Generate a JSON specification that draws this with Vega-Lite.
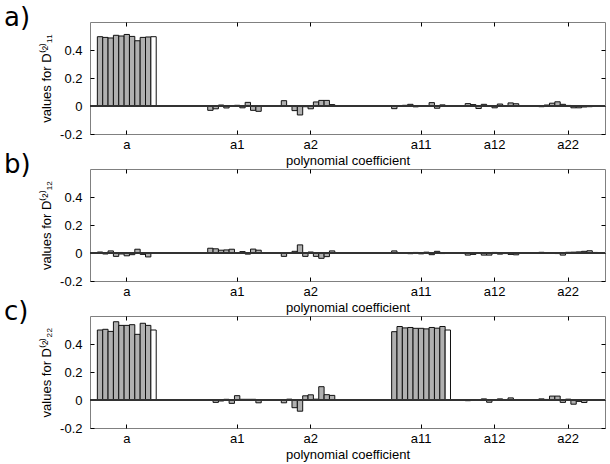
{
  "$schema": "https://vega.github.io/schema/vega-lite/v6.json",
  "padding": {"left": 3, "top": 4, "right": 5, "bottom": 3},
  "datasets": {
    "bars": [
      {"panel":"a","coef":"a","bar":1,"value":0.495},{"panel":"a","coef":"a","bar":2,"value":0.49},{"panel":"a","coef":"a","bar":3,"value":0.486},{"panel":"a","coef":"a","bar":4,"value":0.505},{"panel":"a","coef":"a","bar":5,"value":0.5},{"panel":"a","coef":"a","bar":6,"value":0.511},{"panel":"a","coef":"a","bar":7,"value":0.497},{"panel":"a","coef":"a","bar":8,"value":0.466},{"panel":"a","coef":"a","bar":9,"value":0.49},{"panel":"a","coef":"a","bar":10,"value":0.493},{"panel":"a","coef":"a","bar":11,"value":0.495},
      {"panel":"a","coef":"a1","bar":1,"value":-0.031},{"panel":"a","coef":"a1","bar":2,"value":-0.02},{"panel":"a","coef":"a1","bar":3,"value":0.007},{"panel":"a","coef":"a1","bar":4,"value":-0.014},{"panel":"a","coef":"a1","bar":5,"value":0.002},{"panel":"a","coef":"a1","bar":6,"value":0.005},{"panel":"a","coef":"a1","bar":7,"value":-0.013},{"panel":"a","coef":"a1","bar":8,"value":0.026},{"panel":"a","coef":"a1","bar":9,"value":-0.031},{"panel":"a","coef":"a1","bar":10,"value":-0.038},{"panel":"a","coef":"a1","bar":11,"value":0},
      {"panel":"a","coef":"a2","bar":1,"value":0.038},{"panel":"a","coef":"a2","bar":2,"value":0},{"panel":"a","coef":"a2","bar":3,"value":-0.033},{"panel":"a","coef":"a2","bar":4,"value":-0.064},{"panel":"a","coef":"a2","bar":5,"value":-0.005},{"panel":"a","coef":"a2","bar":6,"value":-0.02},{"panel":"a","coef":"a2","bar":7,"value":0.029},{"panel":"a","coef":"a2","bar":8,"value":0.04},{"panel":"a","coef":"a2","bar":9,"value":0.04},{"panel":"a","coef":"a2","bar":10,"value":0.01},{"panel":"a","coef":"a2","bar":11,"value":0},
      {"panel":"a","coef":"a11","bar":1,"value":-0.019},{"panel":"a","coef":"a11","bar":2,"value":-0.003},{"panel":"a","coef":"a11","bar":3,"value":0.005},{"panel":"a","coef":"a11","bar":4,"value":0.012},{"panel":"a","coef":"a11","bar":5,"value":-0.006},{"panel":"a","coef":"a11","bar":6,"value":0.003},{"panel":"a","coef":"a11","bar":7,"value":0},{"panel":"a","coef":"a11","bar":8,"value":0.024},{"panel":"a","coef":"a11","bar":9,"value":-0.016},{"panel":"a","coef":"a11","bar":10,"value":0.008},{"panel":"a","coef":"a11","bar":11,"value":0},
      {"panel":"a","coef":"a12","bar":1,"value":0.017},{"panel":"a","coef":"a12","bar":2,"value":0.01},{"panel":"a","coef":"a12","bar":3,"value":-0.018},{"panel":"a","coef":"a12","bar":4,"value":0.012},{"panel":"a","coef":"a12","bar":5,"value":0},{"panel":"a","coef":"a12","bar":6,"value":-0.013},{"panel":"a","coef":"a12","bar":7,"value":0.014},{"panel":"a","coef":"a12","bar":8,"value":-0.003},{"panel":"a","coef":"a12","bar":9,"value":0.022},{"panel":"a","coef":"a12","bar":10,"value":0.016},{"panel":"a","coef":"a12","bar":11,"value":0},
      {"panel":"a","coef":"a22","bar":1,"value":-0.005},{"panel":"a","coef":"a22","bar":2,"value":0.007},{"panel":"a","coef":"a22","bar":3,"value":0.02},{"panel":"a","coef":"a22","bar":4,"value":0.03},{"panel":"a","coef":"a22","bar":5,"value":0.012},{"panel":"a","coef":"a22","bar":6,"value":0.004},{"panel":"a","coef":"a22","bar":7,"value":-0.013},{"panel":"a","coef":"a22","bar":8,"value":-0.013},{"panel":"a","coef":"a22","bar":9,"value":-0.007},{"panel":"a","coef":"a22","bar":10,"value":-0.005},{"panel":"a","coef":"a22","bar":11,"value":0},

      {"panel":"b","coef":"a","bar":1,"value":0.007},{"panel":"b","coef":"a","bar":2,"value":-0.007},{"panel":"b","coef":"a","bar":3,"value":0.015},{"panel":"b","coef":"a","bar":4,"value":-0.024},{"panel":"b","coef":"a","bar":5,"value":-0.007},{"panel":"b","coef":"a","bar":6,"value":-0.02},{"panel":"b","coef":"a","bar":7,"value":-0.012},{"panel":"b","coef":"a","bar":8,"value":0.027},{"panel":"b","coef":"a","bar":9,"value":-0.01},{"panel":"b","coef":"a","bar":10,"value":-0.028},{"panel":"b","coef":"a","bar":11,"value":0},
      {"panel":"b","coef":"a1","bar":1,"value":0.034},{"panel":"b","coef":"a1","bar":2,"value":0.03},{"panel":"b","coef":"a1","bar":3,"value":0.02},{"panel":"b","coef":"a1","bar":4,"value":0.022},{"panel":"b","coef":"a1","bar":5,"value":0.027},{"panel":"b","coef":"a1","bar":6,"value":0},{"panel":"b","coef":"a1","bar":7,"value":0.01},{"panel":"b","coef":"a1","bar":8,"value":-0.008},{"panel":"b","coef":"a1","bar":9,"value":0.028},{"panel":"b","coef":"a1","bar":10,"value":0.02},{"panel":"b","coef":"a1","bar":11,"value":0},
      {"panel":"b","coef":"a2","bar":1,"value":-0.024},{"panel":"b","coef":"a2","bar":2,"value":-0.003},{"panel":"b","coef":"a2","bar":3,"value":0.012},{"panel":"b","coef":"a2","bar":4,"value":0.058},{"panel":"b","coef":"a2","bar":5,"value":-0.024},{"panel":"b","coef":"a2","bar":6,"value":0.007},{"panel":"b","coef":"a2","bar":7,"value":-0.024},{"panel":"b","coef":"a2","bar":8,"value":-0.038},{"panel":"b","coef":"a2","bar":9,"value":-0.026},{"panel":"b","coef":"a2","bar":10,"value":0.015},{"panel":"b","coef":"a2","bar":11,"value":0},
      {"panel":"b","coef":"a11","bar":1,"value":0.015},{"panel":"b","coef":"a11","bar":2,"value":0},{"panel":"b","coef":"a11","bar":3,"value":0},{"panel":"b","coef":"a11","bar":4,"value":-0.005},{"panel":"b","coef":"a11","bar":5,"value":0.004},{"panel":"b","coef":"a11","bar":6,"value":-0.006},{"panel":"b","coef":"a11","bar":7,"value":0.006},{"panel":"b","coef":"a11","bar":8,"value":-0.012},{"panel":"b","coef":"a11","bar":9,"value":0.012},{"panel":"b","coef":"a11","bar":10,"value":-0.004},{"panel":"b","coef":"a11","bar":11,"value":0},
      {"panel":"b","coef":"a12","bar":1,"value":-0.015},{"panel":"b","coef":"a12","bar":2,"value":-0.01},{"panel":"b","coef":"a12","bar":3,"value":-0.003},{"panel":"b","coef":"a12","bar":4,"value":-0.015},{"panel":"b","coef":"a12","bar":5,"value":-0.015},{"panel":"b","coef":"a12","bar":6,"value":0.004},{"panel":"b","coef":"a12","bar":7,"value":-0.008},{"panel":"b","coef":"a12","bar":8,"value":-0.004},{"panel":"b","coef":"a12","bar":9,"value":-0.01},{"panel":"b","coef":"a12","bar":10,"value":-0.013},{"panel":"b","coef":"a12","bar":11,"value":0},
      {"panel":"b","coef":"a22","bar":1,"value":0.005},{"panel":"b","coef":"a22","bar":2,"value":0},{"panel":"b","coef":"a22","bar":3,"value":0},{"panel":"b","coef":"a22","bar":4,"value":-0.004},{"panel":"b","coef":"a22","bar":5,"value":-0.015},{"panel":"b","coef":"a22","bar":6,"value":0.005},{"panel":"b","coef":"a22","bar":7,"value":0.006},{"panel":"b","coef":"a22","bar":8,"value":0.008},{"panel":"b","coef":"a22","bar":9,"value":0.012},{"panel":"b","coef":"a22","bar":10,"value":0.016},{"panel":"b","coef":"a22","bar":11,"value":0.004},

      {"panel":"c","coef":"a","bar":1,"value":0.5},{"panel":"c","coef":"a","bar":2,"value":0.505},{"panel":"c","coef":"a","bar":3,"value":0.49},{"panel":"c","coef":"a","bar":4,"value":0.559},{"panel":"c","coef":"a","bar":5,"value":0.533},{"panel":"c","coef":"a","bar":6,"value":0.533},{"panel":"c","coef":"a","bar":7,"value":0.538},{"panel":"c","coef":"a","bar":8,"value":0.469},{"panel":"c","coef":"a","bar":9,"value":0.548},{"panel":"c","coef":"a","bar":10,"value":0.533},{"panel":"c","coef":"a","bar":11,"value":0.5},
      {"panel":"c","coef":"a1","bar":1,"value":0.002},{"panel":"c","coef":"a1","bar":2,"value":-0.017},{"panel":"c","coef":"a1","bar":3,"value":-0.007},{"panel":"c","coef":"a1","bar":4,"value":0.005},{"panel":"c","coef":"a1","bar":5,"value":-0.024},{"panel":"c","coef":"a1","bar":6,"value":0.031},{"panel":"c","coef":"a1","bar":7,"value":0.005},{"panel":"c","coef":"a1","bar":8,"value":0.005},{"panel":"c","coef":"a1","bar":9,"value":0.005},{"panel":"c","coef":"a1","bar":10,"value":-0.02},{"panel":"c","coef":"a1","bar":11,"value":0},
      {"panel":"c","coef":"a2","bar":1,"value":-0.02},{"panel":"c","coef":"a2","bar":2,"value":0.006},{"panel":"c","coef":"a2","bar":3,"value":-0.055},{"panel":"c","coef":"a2","bar":4,"value":-0.08},{"panel":"c","coef":"a2","bar":5,"value":0.03},{"panel":"c","coef":"a2","bar":6,"value":0.037},{"panel":"c","coef":"a2","bar":7,"value":0.006},{"panel":"c","coef":"a2","bar":8,"value":0.095},{"panel":"c","coef":"a2","bar":9,"value":0.038},{"panel":"c","coef":"a2","bar":10,"value":0.033},{"panel":"c","coef":"a2","bar":11,"value":0},
      {"panel":"c","coef":"a11","bar":1,"value":0.488},{"panel":"c","coef":"a11","bar":2,"value":0.525},{"panel":"c","coef":"a11","bar":3,"value":0.515},{"panel":"c","coef":"a11","bar":4,"value":0.518},{"panel":"c","coef":"a11","bar":5,"value":0.512},{"panel":"c","coef":"a11","bar":6,"value":0.512},{"panel":"c","coef":"a11","bar":7,"value":0.508},{"panel":"c","coef":"a11","bar":8,"value":0.518},{"panel":"c","coef":"a11","bar":9,"value":0.513},{"panel":"c","coef":"a11","bar":10,"value":0.525},{"panel":"c","coef":"a11","bar":11,"value":0.5},
      {"panel":"c","coef":"a12","bar":1,"value":-0.005},{"panel":"c","coef":"a12","bar":2,"value":0.003},{"panel":"c","coef":"a12","bar":3,"value":0},{"panel":"c","coef":"a12","bar":4,"value":0.008},{"panel":"c","coef":"a12","bar":5,"value":-0.016},{"panel":"c","coef":"a12","bar":6,"value":0},{"panel":"c","coef":"a12","bar":7,"value":0.008},{"panel":"c","coef":"a12","bar":8,"value":0},{"panel":"c","coef":"a12","bar":9,"value":0.015},{"panel":"c","coef":"a12","bar":10,"value":0},{"panel":"c","coef":"a12","bar":11,"value":0},
      {"panel":"c","coef":"a22","bar":1,"value":0.008},{"panel":"c","coef":"a22","bar":2,"value":0.004},{"panel":"c","coef":"a22","bar":3,"value":0.028},{"panel":"c","coef":"a22","bar":4,"value":0.028},{"panel":"c","coef":"a22","bar":5,"value":-0.017},{"panel":"c","coef":"a22","bar":6,"value":0.006},{"panel":"c","coef":"a22","bar":7,"value":-0.03},{"panel":"c","coef":"a22","bar":8,"value":-0.01},{"panel":"c","coef":"a22","bar":9,"value":-0.018},{"panel":"c","coef":"a22","bar":10,"value":0},{"panel":"c","coef":"a22","bar":11,"value":0}
    ]
  },
  "data": {"name": "bars"},
  "spacing": 35,
  "bounds": "flush",
  "vconcat": [
    {
      "width": 515, "height": 112,
      "transform": [{"filter": "datum.panel == 'a'"}],
      "title": {"text": "a)", "anchor": "start", "frame": "group", "orient": "top", "offset": 0, "baseline": "alphabetic", "dx": -86, "dy": 30, "font": "DejaVu Sans", "fontSize": 26, "fontWeight": "normal", "color": "#000"},
      "layer": [
        {"mark": {"type": "bar", "stroke": "#111", "strokeWidth": 1},
         "encoding": {
           "x": {"field": "coef", "type": "nominal", "scale": {"domain": ["a","gap1","gap2","a1","gap3","a2","gap4","gap5","a11","gap6","a12","gap7","a22"], "paddingInner": 0, "paddingOuter": 0.5}, "axis": {"values": ["a","a1","a2","a11","a12","a22"], "labelAngle": 0, "title": "polynomial coefficient", "labelPadding": 8, "titlePadding": 3}},
           "xOffset": {"field": "bar", "type": "ordinal", "scale": {"paddingInner": 0, "paddingOuter": 0, "range": [-11.036, 47.821]}},
           "y": {"field": "value", "type": "quantitative", "scale": {"domain": [-0.2, 0.6], "nice": false, "zero": false}, "axis": {"values": [-0.2, 0, 0.2, 0.4], "labelExpr": "datum.value == 0 ? '0' : (datum.value < 0 ? '-' + format(-datum.value, '.1f') : format(datum.value, '.1f'))", "title": "values for D⁽²⁾₁₁", "labelPadding": 12, "titlePadding": 6}},
           "y2": {"datum": 0},
           "fill": {"condition": {"test": "datum.bar == 11", "value": "#ffffff"}, "value": "#b0b0b0"}
         }},
        {"mark": {"type": "rule", "color": "#333", "strokeWidth": 1}, "encoding": {"y": {"datum": 0, "type": "quantitative", "axis": null}}},
        {"mark": {"type": "point", "opacity": 0},
         "encoding": {
           "x": {"field": "coef", "type": "nominal", "axis": {"orient": "top", "values": ["a","a1","a2","a11","a12","a22"], "labels": false, "title": null}},
           "y": {"field": "value", "type": "quantitative", "axis": {"orient": "right", "values": [-0.2, 0, 0.2, 0.4], "labels": false, "title": null}}
         }}
      ],
      "resolve": {"axis": {"x": "independent", "y": "independent"}}
    },
    {
      "width": 515, "height": 112,
      "transform": [{"filter": "datum.panel == 'b'"}],
      "title": {"text": "b)", "anchor": "start", "frame": "group", "orient": "top", "offset": 0, "baseline": "alphabetic", "dx": -86, "dy": 30, "font": "DejaVu Sans", "fontSize": 26, "fontWeight": "normal", "color": "#000"},
      "layer": [
        {"mark": {"type": "bar", "stroke": "#111", "strokeWidth": 1},
         "encoding": {
           "x": {"field": "coef", "type": "nominal", "scale": {"domain": ["a","gap1","gap2","a1","gap3","a2","gap4","gap5","a11","gap6","a12","gap7","a22"], "paddingInner": 0, "paddingOuter": 0.5}, "axis": {"values": ["a","a1","a2","a11","a12","a22"], "labelAngle": 0, "title": "polynomial coefficient", "labelPadding": 8, "titlePadding": 3}},
           "xOffset": {"field": "bar", "type": "ordinal", "scale": {"paddingInner": 0, "paddingOuter": 0, "range": [-11.036, 47.821]}},
           "y": {"field": "value", "type": "quantitative", "scale": {"domain": [-0.2, 0.6], "nice": false, "zero": false}, "axis": {"values": [-0.2, 0, 0.2, 0.4], "labelExpr": "datum.value == 0 ? '0' : (datum.value < 0 ? '-' + format(-datum.value, '.1f') : format(datum.value, '.1f'))", "title": "values for D⁽²⁾₁₂", "labelPadding": 12, "titlePadding": 6}},
           "y2": {"datum": 0},
           "fill": {"condition": {"test": "datum.bar == 11", "value": "#ffffff"}, "value": "#b0b0b0"}
         }},
        {"mark": {"type": "rule", "color": "#333", "strokeWidth": 1}, "encoding": {"y": {"datum": 0, "type": "quantitative", "axis": null}}},
        {"mark": {"type": "point", "opacity": 0},
         "encoding": {
           "x": {"field": "coef", "type": "nominal", "axis": {"orient": "top", "values": ["a","a1","a2","a11","a12","a22"], "labels": false, "title": null}},
           "y": {"field": "value", "type": "quantitative", "axis": {"orient": "right", "values": [-0.2, 0, 0.2, 0.4], "labels": false, "title": null}}
         }}
      ],
      "resolve": {"axis": {"x": "independent", "y": "independent"}}
    },
    {
      "width": 515, "height": 112,
      "transform": [{"filter": "datum.panel == 'c'"}],
      "title": {"text": "c)", "anchor": "start", "frame": "group", "orient": "top", "offset": 0, "baseline": "alphabetic", "dx": -86, "dy": 30, "font": "DejaVu Sans", "fontSize": 26, "fontWeight": "normal", "color": "#000"},
      "layer": [
        {"mark": {"type": "bar", "stroke": "#111", "strokeWidth": 1},
         "encoding": {
           "x": {"field": "coef", "type": "nominal", "scale": {"domain": ["a","gap1","gap2","a1","gap3","a2","gap4","gap5","a11","gap6","a12","gap7","a22"], "paddingInner": 0, "paddingOuter": 0.5}, "axis": {"values": ["a","a1","a2","a11","a12","a22"], "labelAngle": 0, "title": "polynomial coefficient", "labelPadding": 8, "titlePadding": 3}},
           "xOffset": {"field": "bar", "type": "ordinal", "scale": {"paddingInner": 0, "paddingOuter": 0, "range": [-11.036, 47.821]}},
           "y": {"field": "value", "type": "quantitative", "scale": {"domain": [-0.2, 0.6], "nice": false, "zero": false}, "axis": {"values": [-0.2, 0, 0.2, 0.4], "labelExpr": "datum.value == 0 ? '0' : (datum.value < 0 ? '-' + format(-datum.value, '.1f') : format(datum.value, '.1f'))", "title": "values for D⁽²⁾₂₂", "labelPadding": 12, "titlePadding": 6}},
           "y2": {"datum": 0},
           "fill": {"condition": {"test": "datum.bar == 11", "value": "#ffffff"}, "value": "#b0b0b0"}
         }},
        {"mark": {"type": "rule", "color": "#333", "strokeWidth": 1}, "encoding": {"y": {"datum": 0, "type": "quantitative", "axis": null}}},
        {"mark": {"type": "point", "opacity": 0},
         "encoding": {
           "x": {"field": "coef", "type": "nominal", "axis": {"orient": "top", "values": ["a","a1","a2","a11","a12","a22"], "labels": false, "title": null}},
           "y": {"field": "value", "type": "quantitative", "axis": {"orient": "right", "values": [-0.2, 0, 0.2, 0.4], "labels": false, "title": null}}
         }}
      ],
      "resolve": {"axis": {"x": "independent", "y": "independent"}}
    }
  ],
  "config": {
    "font": "Liberation Sans",
    "view": {"stroke": "#808080", "strokeWidth": 1},
    "axis": {"labelFont": "Liberation Sans", "labelFontSize": 13, "labelColor": "#000", "titleFont": "Liberation Sans", "titleFontSize": 13, "titleFontWeight": "normal", "titleColor": "#000", "domain": false, "grid": false, "ticks": true, "tickColor": "#000", "tickSize": -4}
  }
}
